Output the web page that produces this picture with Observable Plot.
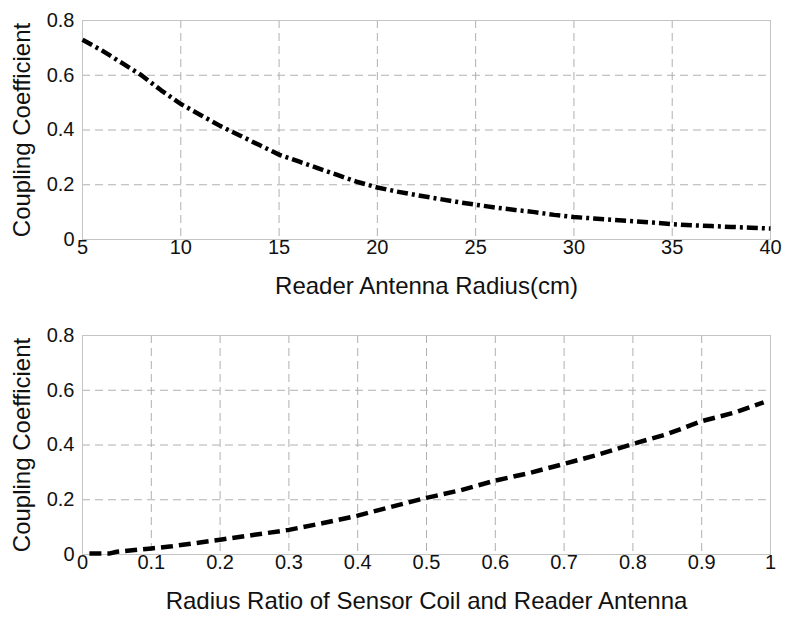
<!DOCTYPE html>
<html>
<head>
<meta charset="utf-8">
<script src="https://cdn.jsdelivr.net/npm/d3@7"></script>
<script src="https://cdn.jsdelivr.net/npm/@observablehq/plot@0.6"></script>
<style>
  html, body { margin: 0; padding: 0; background: #fff; }
  #chart { width: 792px; height: 622px; }
  svg { display: block; }
</style>
</head>
<body>
<div id="chart"></div>
<script>
// Top panel: coupling vs reader antenna radius
const radiusCm = [5, 6, 7, 8, 9, 10, 11, 12, 13, 14, 15, 16, 17, 18, 19, 20, 21, 22, 23, 24, 25, 26, 27, 28, 29, 30, 31, 32, 33, 34, 35, 36, 37, 38, 39, 40];
const couplingTop = [0.73, 0.69, 0.645, 0.60, 0.545, 0.495, 0.455, 0.415, 0.38, 0.345, 0.31, 0.285, 0.26, 0.235, 0.21, 0.19, 0.175, 0.162, 0.15, 0.138, 0.127, 0.117, 0.108, 0.10, 0.09, 0.082, 0.077, 0.072, 0.067, 0.062, 0.056, 0.052, 0.049, 0.046, 0.043, 0.04];
const xTicksTop = [5, 10, 15, 20, 25, 30, 35, 40];

// Bottom panel: coupling vs radius ratio
const radiusRatio = [0.01, 0.04, 0.05, 0.1, 0.13, 0.2, 0.25, 0.3, 0.35, 0.4, 0.45, 0.5, 0.55, 0.6, 0.65, 0.7, 0.75, 0.8, 0.85, 0.9, 0.95, 0.99];
const couplingBottom = [0.004, 0.004, 0.01, 0.022, 0.03, 0.054, 0.072, 0.09, 0.115, 0.142, 0.175, 0.207, 0.235, 0.27, 0.298, 0.331, 0.365, 0.404, 0.44, 0.487, 0.52, 0.556];
const xTicksBottom = [0, 0.1, 0.2, 0.3, 0.4, 0.5, 0.6, 0.7, 0.8, 0.9, 1];

const yTicks = [0, 0.2, 0.4, 0.6, 0.8];

const topData = radiusCm.map((x, i) => ({x, y: couplingTop[i]}));
const bottomData = radiusRatio.map((x, i) => ({x, y: couplingBottom[i]}));

const fontFamily = "'Liberation Sans', Arial, sans-serif";
const gridColor = "#b0b0b0";

function panel({data, xDomain, xTicks, xLabel, tickFormat, height, marginTop, marginBottom, dash, labelOffsetX}) {
  const yFmt = d => d === 0 ? "0" : String(d);
  return Plot.plot({
    width: 792,
    height,
    marginLeft: 82,
    marginRight: 22,
    marginTop,
    marginBottom,
    style: {fontFamily, color: "#111", background: "#fff"},
    x: {domain: xDomain},
    y: {domain: [0, 0.8]},
    marks: [
      Plot.gridX(xTicks, {stroke: gridColor, strokeOpacity: 1, strokeDasharray: "8,5"}),
      Plot.gridY(yTicks, {stroke: gridColor, strokeOpacity: 1, strokeDasharray: "8,5"}),
      Plot.frame({stroke: "#c4c4c4"}),
      Plot.axisX({ticks: xTicks, tickFormat, tickSize: 0, tickPadding: 0, fontSize: 20, label: xLabel, labelAnchor: "center", labelArrow: "none", labelOffset: labelOffsetX}),
      Plot.axisY({ticks: yTicks, tickFormat: yFmt, tickSize: 0, tickPadding: 8, fontSize: 20, label: "Coupling Coefficient", labelAnchor: "center", labelArrow: "none", labelOffset: 70}),
      Plot.line(data, {x: "x", y: "y", stroke: "#000", strokeWidth: 4.5, strokeDasharray: dash, strokeLinecap: "butt"})
    ]
  });
}

const topPanel = panel({
  data: topData, xDomain: [5, 40], xTicks: xTicksTop, xLabel: "Reader Antenna Radius(cm)",
  tickFormat: d => String(d), height: 305, marginTop: 20, marginBottom: 66, dash: "11,4,3,4", labelOffsetX: 54
});
const bottomPanel = panel({
  data: bottomData, xDomain: [0, 1], xTicks: xTicksBottom, xLabel: "Radius Ratio of Sensor Coil and Reader Antenna",
  tickFormat: d => d === 0 ? "0" : d === 1 ? "1" : String(d), height: 317, marginTop: 30, marginBottom: 68, dash: "12,6", labelOffsetX: 54
});

const chart = document.getElementById("chart");
chart.appendChild(topPanel);
chart.appendChild(bottomPanel);

const labelTexts = new Set(["Reader Antenna Radius(cm)", "Radius Ratio of Sensor Coil and Reader Antenna", "Coupling Coefficient"]);
for (const svg of [topPanel, bottomPanel]) {
  svg.querySelectorAll("text").forEach(t => {
    const size = labelTexts.has(t.textContent) ? "24px" : "20px";
    t.setAttribute("font-size", size);
    t.style.setProperty("font-size", size, "important");
    t.style.fill = "#111";
  });
}
</script>
</body>
</html>
